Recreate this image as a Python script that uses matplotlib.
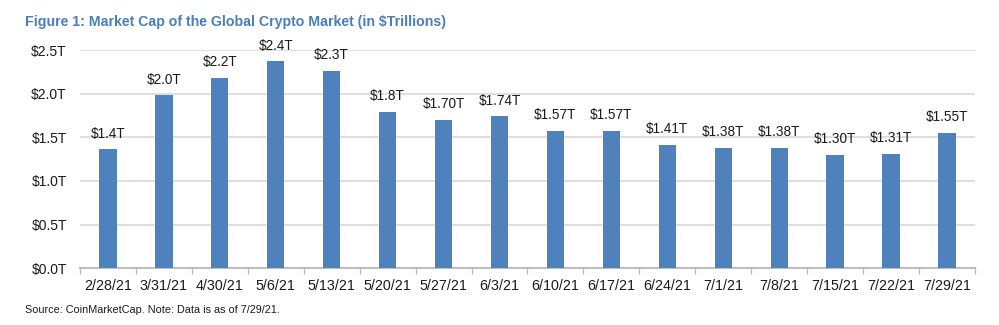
import numpy as np
import matplotlib.pyplot as plt

plt.rcParams['font.family'] = ['Liberation Sans', 'DejaVu Sans']

dates = ['2/28/21', '3/31/21', '4/30/21', '5/6/21', '5/13/21', '5/20/21', '5/27/21', '6/3/21',
         '6/10/21', '6/17/21', '6/24/21', '7/1/21', '7/8/21', '7/15/21', '7/22/21', '7/29/21']
market_cap = [1.36, 1.98, 2.18, 2.37, 2.26, 1.79, 1.70, 1.74,
              1.57, 1.57, 1.41, 1.38, 1.38, 1.30, 1.31, 1.55]
bar_labels = ['$1.4T', '$2.0T', '$2.2T', '$2.4T', '$2.3T', '$1.8T', '$1.70T', '$1.74T',
              '$1.57T', '$1.57T', '$1.41T', '$1.38T', '$1.38T', '$1.30T', '$1.31T', '$1.55T']
y_ticks = [0.0, 0.5, 1.0, 1.5, 2.0, 2.5]

fig = plt.figure(figsize=(9.99, 3.25), dpi=100)
ax = fig.add_axes([0.080, 0.175, 0.896, 0.671])

x = np.arange(len(dates))
bars = ax.bar(x, market_cap, width=0.31, color='#4F81BD', zorder=3)
for b, lab in zip(bars, bar_labels):
    ax.text(b.get_x() + b.get_width() / 2, b.get_height() + 0.1, lab,
            ha='center', va='bottom', fontsize=9.8, color='#1a1a1a')

ax.set_xlim(-0.5, len(dates) - 0.5)
ax.set_ylim(0, 2.5)
ax.set_yticks(y_ticks)
ax.set_yticklabels(['$%.1fT' % v for v in y_ticks])
ax.set_xticks(x)
ax.set_xticklabels(dates)
ax.set_xticks(np.arange(-0.5, len(dates)), minor=True)
ax.tick_params(axis='x', which='major', length=0, pad=8, labelsize=10.3, labelcolor='#1a1a1a')
ax.tick_params(axis='x', which='minor', length=4, color='#BFBFBF', width=1)
ax.tick_params(axis='y', length=0, pad=9.4, labelsize=10, labelcolor='#1a1a1a')

ax.grid(axis='y', color='#D9D9D9', linewidth=1.2, zorder=0)
for s in ['top', 'right', 'left']:
    ax.spines[s].set_visible(False)
ax.spines['bottom'].set_color('#BFBFBF')
ax.spines['bottom'].set_linewidth(1.5)

fig.text(0.025, 0.932, 'Figure 1: Market Cap of the Global Crypto Market (in $Trillions)',
         fontsize=10.2, fontweight='bold', color='#4A7EBB', ha='left', va='center')
fig.text(0.025, 0.045, 'Source: CoinMarketCap. Note: Data is as of 7/29/21.',
         fontsize=7.8, color='#1a1a1a', ha='left', va='center')

fig.savefig('out.png', dpi=100)
